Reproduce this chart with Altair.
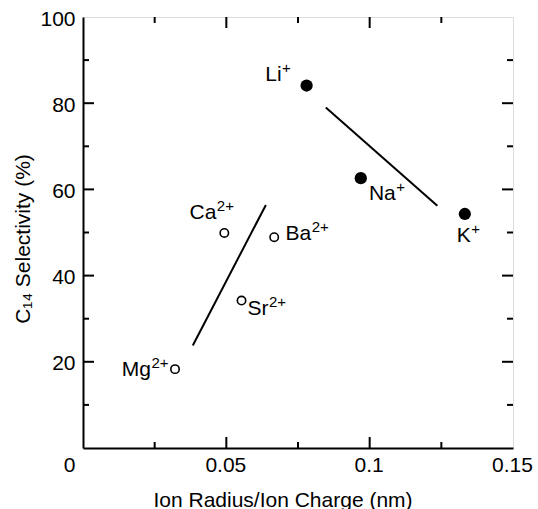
import altair as alt
import pandas as pd

# ---- data ----
ions = ["Li", "Na", "K", "Mg", "Ca", "Sr", "Ba"]
charges = ["+", "+", "+", "2+", "2+", "2+", "2+"]
radius_per_charge = [0.078, 0.0969, 0.1332, 0.0321, 0.0493, 0.0553, 0.0667]
selectivity = [84.1, 62.6, 54.3, 18.3, 49.9, 34.2, 48.9]
valence = ["mono", "mono", "mono", "di", "di", "di", "di"]

trend_group = ["di", "di", "mono", "mono"]
trend_x = [0.0383, 0.0638, 0.0847, 0.1236]
trend_y = [23.8, 56.4, 79.0, 56.2]

x_tick_labels = [0, 0.05, 0.1, 0.15]
y_tick_labels = [20, 40, 60, 80, 100]
x_major = [0.05, 0.1]
x_minor = [0.025, 0.075, 0.125]
y_major = [20, 40, 60, 80]
y_minor = [10, 30, 50, 70, 90]

W, H = 430, 431
FONT = "Liberation Sans"

pts = pd.DataFrame({"ion": ions, "charge": charges, "x": radius_per_charge,
                    "y": selectivity, "val": valence})
lines = pd.DataFrame({"g": trend_group, "x": trend_x, "y": trend_y})

xscale = alt.Scale(domain=[0, 0.15], nice=False, zero=False)
yscale = alt.Scale(domain=[0, 100], nice=False, zero=False)

xaxis = alt.Axis(values=x_tick_labels, labelExpr="datum.value", ticks=False, grid=False,
                 domainColor="black", domainWidth=2, labelFontSize=21, labelPadding=6,
                 labelColor="black", labelFont=FONT, labelFlush=False, labelOverlap=False,
                 labelOffset={"condition": {"test": "datum.value == 0", "value": -14}, "value": -1},
                 title="Ion Radius/Ion Charge (nm)", titleFontSize=21, titleFontWeight="normal",
                 titleFont=FONT, titleColor="black", titleX=199.5, titleY=58,
                 titleBaseline="alphabetic", titleAlign="center")
yaxis = alt.Axis(values=y_tick_labels, ticks=False, grid=False,
                 domainColor="black", domainWidth=2, labelFontSize=21, labelPadding=8,
                 labelColor="black", labelFont=FONT, labelOffset=2, labelFlush=False,
                 labelOverlap=False,
                 title="C₁₄ Selectivity (%)", titleFontSize=21, titleFontWeight="normal",
                 titleFont=FONT, titleColor="black", titleX=-60, titleY=221.5,
                 titleBaseline="middle", titleAlign="center", titleAngle=-90)


def X(f="x"):
    return alt.X(f, type="quantitative", scale=xscale, axis=xaxis)


def Y(f="y"):
    return alt.Y(f, type="quantitative", scale=yscale, axis=yaxis)


layers = []


# inward ticks on all four sides
def vticks(vals, length, side):
    d = pd.DataFrame({"y": vals})
    if side == "left":
        xv, x2v = 0, length
    else:
        xv, x2v = W - length, W
    return alt.Chart(d).mark_rule(color="black", strokeWidth=2).encode(
        y=Y(), x=alt.value(xv), x2=alt.value(x2v))


def hticks(vals, length, side):
    d = pd.DataFrame({"x": vals})
    if side == "bottom":
        yv, y2v = H - length, H
    else:
        yv, y2v = 0, length
    return alt.Chart(d).mark_rule(color="black", strokeWidth=2).encode(
        x=X(), y=alt.value(yv), y2=alt.value(y2v))


for side in ["left", "right"]:
    layers.append(vticks(y_major, 11, side))
    layers.append(vticks(y_minor, 6, side))
for side in ["bottom", "top"]:
    layers.append(hticks(x_major, 11, side))
    layers.append(hticks(x_minor, 6, side))

# trend lines
layers.append(alt.Chart(lines).mark_line(color="black", strokeWidth=2).encode(
    x=X(), y=Y(), detail="g:N"))

# points
layers.append(alt.Chart(pts).transform_filter("datum.val == 'mono'").mark_point(
    shape="circle", filled=True, color="black", size=150, opacity=1).encode(x=X(), y=Y()))
layers.append(alt.Chart(pts).transform_filter("datum.val == 'di'").mark_point(
    shape="circle", filled=False, color="black", size=70, strokeWidth=1.6, opacity=1
).encode(x=X(), y=Y()))

# labels: (dx, dy) of the point where base text ends and superscript starts (baseline)
anchors = {"Li": (-25, -5), "Na": (35, 22), "K": (6, 28), "Ca": (-8, -14),
           "Ba": (37, 3), "Sr": (27, 14), "Mg": (-24, 7)}
for ion in ions:
    ax, ay = anchors[ion]
    base = alt.Chart(pts).transform_filter(f"datum.ion == '{ion}'").mark_text(
        align="right", baseline="alphabetic", dx=ax, dy=ay, fontSize=21, font=FONT,
        color="black").encode(x=X(), y=Y(), text="ion:N")
    sup = alt.Chart(pts).transform_filter(f"datum.ion == '{ion}'").mark_text(
        align="left", baseline="alphabetic", dx=ax + 0.5, dy=ay - 8, fontSize=15, font=FONT,
        color="black").encode(x=X(), y=Y(), text="charge:N")
    layers += [base, sup]

chart = alt.layer(*layers).properties(
    width=W, height=H,
    padding={"left": 83, "top": 17, "right": 25, "bottom": 61},
    autosize=alt.AutoSizeParams(type="none"),
).configure_view(stroke="black", strokeWidth=2).configure(background="white")

chart.save("out.html", embed_options={"renderer": "svg", "actions": False})
